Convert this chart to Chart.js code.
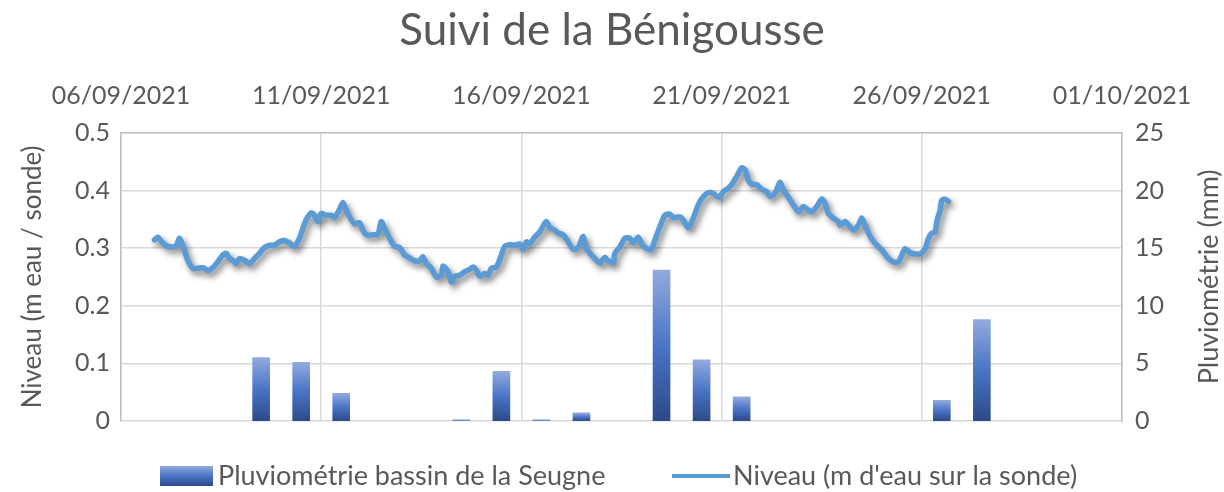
<!DOCTYPE html>
<html lang="fr">
<head>
<meta charset="utf-8">
<title>Suivi de la Bénigousse</title>
<script src="https://cdn.jsdelivr.net/npm/chart.js@4.4.1/dist/chart.umd.min.js"></script>
<style>
  html, body { margin: 0; padding: 0; background: #fff; }
  #wrap { width: 1224px; height: 492px; }
</style>
</head>
<body>
<div id="wrap"><canvas id="myChart"></canvas></div>
<script>
// pluie journalière (mm), un bâton par jour du 06/09 au 30/09
const joursPluie = ['06/09','07/09','08/09','09/09','10/09','11/09','12/09','13/09','14/09','15/09','16/09','17/09','18/09',
  '19/09','20/09','21/09','22/09','23/09','24/09','25/09','26/09','27/09','28/09','29/09','30/09'];
const pluie = [0, 0, 0, 5.5, 5.1, 2.4, 0, 0, 0.1, 4.3, 0.1, 0.7, 0, 13.1, 5.3, 2.1, 0, 0, 0, 0, 1.8, 8.8, 0, 0, 0];

// niveau de la sonde : heures écoulées depuis le 06/09/2021 00:00 et hauteur d'eau (m)
const niveauHeures = [20, 22, 25, 28, 31, 33, 35, 37, 40, 43, 46, 49, 52, 55, 58, 61, 63, 65, 67, 69, 71, 74, 77, 80, 83, 86, 89, 92,
  95, 98, 101, 104, 107, 109, 111, 114, 116, 118, 120, 123, 126, 128, 131, 133, 135, 137, 140, 143, 145, 147, 151, 154, 156, 158,
  161, 164, 167, 170, 173, 176, 179, 181, 183, 186, 189, 192, 193, 196, 198, 200, 203, 206, 209, 211, 213, 215, 218, 220, 222, 225,
  228, 230, 233, 236, 239, 241, 243, 245, 248, 251, 254, 255, 257, 260, 262, 265, 268, 271, 274, 277, 279, 282, 285, 287, 290, 292,
  295, 296, 299, 302, 305, 307, 310, 313, 316, 318, 320, 323, 326, 329, 331, 335, 337, 340, 343, 346, 349, 352, 355, 357, 359, 361,
  364, 366, 369, 372, 374, 376, 378, 381, 384, 387, 389, 392, 395, 397, 400, 403, 406, 409, 412, 414, 417, 420, 422, 424, 427, 430,
  431, 434, 437, 439, 442, 444, 446, 449, 452, 456, 460, 463, 466, 468, 470, 473, 476, 479, 482, 484, 486, 488, 489, 491, 492, 494, 496];
const niveau = [0.314, 0.319, 0.309, 0.303, 0.302, 0.303, 0.317, 0.305, 0.279, 0.265, 0.265, 0.266, 0.261, 0.266, 0.276, 0.288, 0.291,
  0.282, 0.279, 0.273, 0.282, 0.279, 0.273, 0.282, 0.291, 0.301, 0.305, 0.305, 0.311, 0.313, 0.309, 0.303, 0.317, 0.334, 0.349, 0.361,
  0.357, 0.346, 0.360, 0.357, 0.357, 0.353, 0.367, 0.379, 0.366, 0.354, 0.342, 0.344, 0.331, 0.323, 0.323, 0.324, 0.346, 0.334, 0.317,
  0.303, 0.301, 0.288, 0.283, 0.278, 0.278, 0.285, 0.273, 0.265, 0.250, 0.253, 0.269, 0.259, 0.241, 0.251, 0.253, 0.259, 0.263, 0.267,
  0.262, 0.251, 0.256, 0.253, 0.265, 0.267, 0.288, 0.303, 0.306, 0.305, 0.307, 0.298, 0.311, 0.308, 0.319, 0.328, 0.343, 0.346, 0.336,
  0.331, 0.326, 0.323, 0.311, 0.298, 0.301, 0.320, 0.299, 0.288, 0.279, 0.274, 0.284, 0.278, 0.274, 0.291, 0.302, 0.317, 0.317, 0.309,
  0.319, 0.303, 0.298, 0.298, 0.314, 0.337, 0.357, 0.359, 0.353, 0.354, 0.349, 0.335, 0.352, 0.375, 0.389, 0.396, 0.395, 0.390, 0.389,
  0.398, 0.404, 0.410, 0.424, 0.439, 0.436, 0.418, 0.411, 0.410, 0.402, 0.398, 0.390, 0.395, 0.414, 0.401, 0.388, 0.375, 0.363, 0.372,
  0.366, 0.363, 0.372, 0.385, 0.378, 0.360, 0.352, 0.346, 0.340, 0.346, 0.337, 0.331, 0.340, 0.352, 0.340, 0.320, 0.308, 0.297, 0.282,
  0.276, 0.276, 0.288, 0.299, 0.292, 0.290, 0.290, 0.299, 0.317, 0.326, 0.328, 0.346, 0.366, 0.383, 0.385, 0.381];

const DEBUT = new Date(2021, 8, 6);
const GRIS = '#595959';
const POLICE = 'Lato, "Open Sans", sans-serif';
const BLEU_LIGNE = '#5B9BD5';
const TITRE_DROITE = 'Pluviométrie (mm)';

const pad2 = n => String(n).padStart(2, '0');
const dateDepuisHeures = h => {
  const d = new Date(DEBUT.getTime() + h * 3600 * 1000);
  return `${pad2(d.getDate())}/${pad2(d.getMonth() + 1)}/${d.getFullYear()}`;
};

// dégradé vertical façon Excel : foncé en bas, clair en haut
const degrade = (ctx, yBas, yHaut) => {
  const g = ctx.createLinearGradient(0, yBas, 0, yHaut);
  g.addColorStop(0, '#2C4A88');
  g.addColorStop(0.5, '#4A74C6');
  g.addColorStop(1, '#91ABDD');
  return g;
};

// ombre portée sous la courbe de niveau
const ombreLigne = {
  id: 'ombreLigne',
  beforeDatasetDraw(chart, args) {
    if (args.meta.type !== 'line') return;
    const c = chart.ctx;
    c.save();
    c.shadowColor = 'rgba(0,0,0,0.5)';
    c.shadowBlur = 6;
    c.shadowOffsetX = 3;
    c.shadowOffsetY = 4;
  },
  afterDatasetDraw(chart, args) {
    if (args.meta.type === 'line') chart.ctx.restore();
  }
};

// légende en bas + titre de l'axe de droite (lu de bas en haut)
const legendeBas = {
  id: 'legendeBas',
  afterDraw(chart) {
    const c = chart.ctx;
    const y = 476;
    c.save();
    c.fillStyle = degrade(c, y + 10, y - 10);
    c.fillRect(160, y - 10, 53, 20);
    c.strokeStyle = BLEU_LIGNE;
    c.lineWidth = 4;
    c.beginPath();
    c.moveTo(672, y);
    c.lineTo(730, y);
    c.stroke();
    c.fillStyle = GRIS;
    c.font = `27px ${POLICE}`;
    c.textBaseline = 'middle';
    c.fillText(chart.data.datasets[0].label, 218, y);
    c.fillText(chart.data.datasets[1].label, 733, y);

    const area = chart.chartArea;
    c.translate(1209, (area.top + area.bottom) / 2);
    c.rotate(-Math.PI / 2);
    c.textAlign = 'center';
    c.fillText(TITRE_DROITE, 0, 0);
    c.restore();
  }
};

let myChart;

const setup = () => {
  const ctxt = document.getElementById('myChart').getContext('2d');

  myChart = new Chart(ctxt, {
    data: {
      labels: joursPluie,
      datasets: [{
        type: 'bar',
        label: 'Pluviométrie bassin de la Seugne',
        data: pluie,
        xAxisID: 'xPluie',
        yAxisID: 'yPluie',
        order: 2,
        grouped: false,
        barThickness: 17,
        backgroundColor: (context) => {
          const chart = context.chart;
          if (!chart.chartArea || context.type !== 'data') return '#4472C4';
          if (!context.raw) return 'rgba(0,0,0,0)';
          const ys = chart.scales.yPluie;
          const yBas = ys.getPixelForValue(0);
          const yHaut = ys.getPixelForValue(context.raw);
          if (yBas - yHaut < 2) return '#6F8FD0';
          return degrade(chart.ctx, yBas, yHaut);
        }
      }, {
        type: 'line',
        label: "Niveau (m d'eau sur la sonde)",
        data: niveauHeures.map((h, i) => ({ x: h, y: niveau[i] })),
        xAxisID: 'x',
        yAxisID: 'y',
        order: 1,
        borderColor: BLEU_LIGNE,
        borderWidth: 5.5,
        borderJoinStyle: 'round',
        borderCapStyle: 'round',
        pointRadius: 0,
        tension: 0.25
      }]
    },
    options: {
      responsive: true,
      maintainAspectRatio: false,
      animation: false,
      layout: { padding: { left: 0, right: 0, top: 0, bottom: 71 } },
      plugins: {
        legend: { display: false },
        tooltip: { enabled: false },
        title: {
          display: true,
          text: 'Suivi de la Bénigousse',
          color: GRIS,
          font: { family: POLICE, size: 44, weight: 'normal' },
          padding: { top: 4, bottom: 13 }
        }
      },
      scales: {
        x: {
          type: 'linear',
          position: 'top',
          min: 0,
          max: 600,
          ticks: {
            stepSize: 120,
            color: GRIS,
            font: { family: POLICE, size: 25 },
            padding: 22,
            maxRotation: 0,
            callback: v => dateDepuisHeures(v)
          },
          grid: { color: '#D9D9D9', lineWidth: 1.5, drawTicks: false },
          border: { color: '#BFBFBF', width: 1.5 },
          afterFit: s => { s.height = 63; }
        },
        xPluie: {
          type: 'category',
          position: 'bottom',
          display: false,
          offset: true
        },
        y: {
          position: 'left',
          min: 0,
          max: 0.5,
          ticks: {
            stepSize: 0.1,
            color: GRIS,
            font: { family: POLICE, size: 25 },
            padding: 11,
            callback: v => String(Math.round(v * 10) / 10)
          },
          grid: { color: '#D9D9D9', lineWidth: 1.5, drawTicks: false },
          border: { color: '#BFBFBF', width: 1.5 },
          title: {
            display: true,
            text: 'Niveau (m eau / sonde)',
            color: GRIS,
            font: { family: POLICE, size: 26 },
            padding: { top: 17, bottom: 0 }
          },
          afterFit: s => { s.width = 121; }
        },
        yPluie: {
          position: 'right',
          min: 0,
          max: 25,
          ticks: {
            stepSize: 5,
            color: GRIS,
            font: { family: POLICE, size: 25 },
            padding: 13
          },
          grid: { display: false, drawTicks: false },
          border: { color: '#BFBFBF', width: 1.5 },
          afterFit: s => { s.width = 102; }
        }
      }
    },
    plugins: [ombreLigne, legendeBas]
  });
};

window.addEventListener('DOMContentLoaded', setup);
</script>
</body>
</html>
